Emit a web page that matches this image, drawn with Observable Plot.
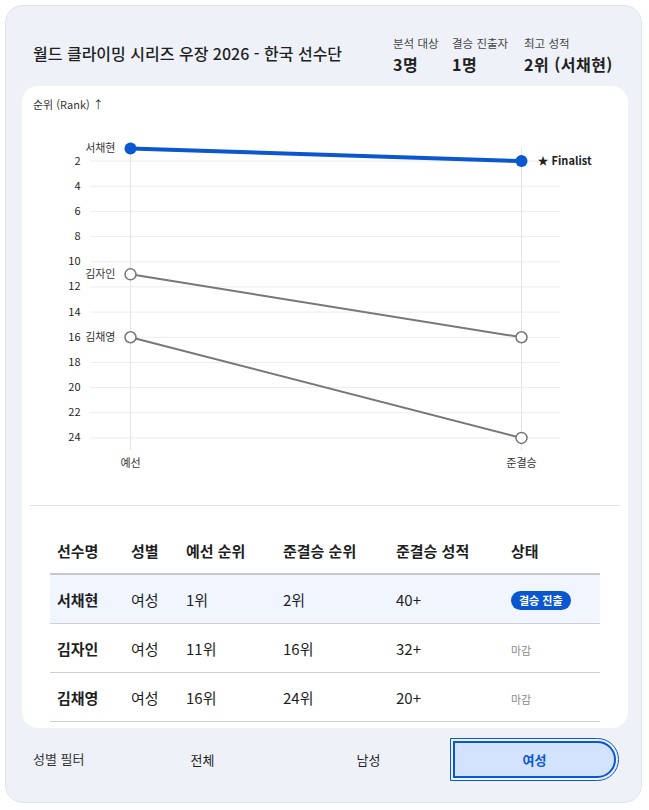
<!DOCTYPE html>
<html lang="ko">
<head>
<meta charset="utf-8">
<script src="https://cdn.jsdelivr.net/npm/d3@7"></script>
<script src="https://cdn.jsdelivr.net/npm/@observablehq/plot@0.6"></script>
<style>
  html, body { margin: 0; padding: 0; background: #ffffff; }
  body { width: 649px; height: 810px; position: relative; font-family: "Noto Sans CJK KR", "Noto Sans", sans-serif; color: #1f1f1f; }
  .card { position: absolute; left: 5px; top: 5px; width: 637px; height: 798px; background: #eef2f8; border: 1px solid #dde3ea; border-radius: 18px; box-sizing: border-box; }
  .title { position: absolute; left: 27px; top: 36px; font-size: 16px; font-weight: 500; line-height: 22px; color: #1f1f1f; }
  .stats { position: absolute; left: 387px; top: 30px; display: flex; }
  .stat .lab { font-size: 11.5px; color: #444; line-height: 14px; }
  .stat .val { font-size: 16px; font-weight: 700; line-height: 20px; margin-top: 4px; color: #1f1f1f; letter-spacing: 0.5px; }
  .panel { position: absolute; left: 16px; top: 80px; width: 606px; height: 642px; background: #fff; border-radius: 16px; }
  .ylab { position: absolute; left: 11px; top: 10px; font-size: 11px; line-height: 16px; color: #333; }
  #chart { position: absolute; left: 0; top: 26px; }
  .divider { position: absolute; left: 8px; top: 419px; width: 590px; height: 1px; background: #e3e3e3; }
  table { position: absolute; left: 28px; top: 441px; width: 550px; border-collapse: collapse; table-layout: fixed; }
  th { font-size: 15px; font-weight: 700; text-align: left; padding: 0 0 0 7px; height: 46px; border-bottom: 2px solid #c8c8c8; color: #1f1f1f; }
  td { font-size: 15px; padding: 0 0 0 7px; height: 48px; border-bottom: 1px solid #cfcfcf; color: #1f1f1f; }
  td.name { font-weight: 700; }
  tr.hl td { background: #f0f5ff; }
  .badge { display: inline-block; background: #0b57d0; color: #fff; font-size: 11px; font-weight: 700; line-height: 19px; padding: 0 8px; border-radius: 10px; }
  .muted { font-size: 11px; color: #8a8a8a; }
  .filter { position: absolute; left: 0; top: 730px; width: 637px; height: 46px; }
  .flab { position: absolute; left: 27px; top: 14px; font-size: 13px; line-height: 18px; color: #333; }
  .btn { position: absolute; top: 5px; width: 163px; height: 37px; box-sizing: border-box; text-align: center; font-size: 13px; line-height: 37px; color: #1f1f1f; }
  .btn.active { background: #d3e3fd; color: #0b57d0; font-weight: 700; border: 2px solid #0b57d0; border-radius: 0 19px 19px 0; outline: 1px solid #0b57d0; outline-offset: 2px; line-height: 33px; }
</style>
</head>
<body>
<div class="card">
  <div class="title">월드 클라이밍 시리즈 우장 2026 - 한국 선수단</div>
  <div class="stats" id="stats"></div>
  <div class="panel">
    <div class="ylab">순위 (Rank) ↑</div>
    <div id="chart"></div>
    <div class="divider"></div>
    <table id="tbl"></table>
  </div>
  <div class="filter" id="filter"></div>
</div>
<script>
// ---- data ----
const athletes = ["서채현", "김자인", "김채영"];
const genders = ["여성", "여성", "여성"];
const qualRanks = [1, 11, 16];
const semiRanks = [2, 16, 24];
const semiScores = ["40+", "32+", "20+"];
const statuses = ["결승 진출", "마감", "마감"];
const rounds = ["예선", "준결승"];
const yTicks = [2, 4, 6, 8, 10, 12, 14, 16, 18, 20, 22, 24];
const statLabels = ["분석 대상", "결승 진출자", "최고 성적"];
const statValues = ["3명", "1명", "2위 (서채현)"];
const tableHeaders = ["선수명", "성별", "예선 순위", "준결승 순위", "준결승 성적", "상태"];
const filterLabels = ["전체", "남성", "여성"];
const activeFilter = "여성";
const finalistNote = "★ Finalist";

// ---- derived table for Plot ----
const rows = athletes.flatMap((name, i) => [
  {name, round: rounds[0], rank: qualRanks[i], finalist: statuses[i] === "결승 진출"},
  {name, round: rounds[1], rank: semiRanks[i], finalist: statuses[i] === "결승 진출"}
]);
const others = rows.filter(d => !d.finalist);
const fin = rows.filter(d => d.finalist);

const BLUE = "#0b57d0";
const GREY = "#777777";

const chart = Plot.plot({
  width: 606,
  height: 378,
  marginTop: 36,
  marginRight: 68,
  marginBottom: 40,
  marginLeft: 68,
  style: {fontFamily: "'Noto Sans CJK KR', sans-serif", fontSize: "11px", color: "#333", background: "transparent"},
  x: {type: "point", domain: rounds, padding: 0.1},
  y: {domain: [1, 25], reverse: true},
  marks: [
    Plot.gridY(yTicks, {stroke: "#ececec", strokeOpacity: 1}),
    Plot.gridX(rounds, {stroke: "#e4e4e4", strokeOpacity: 1}),
    Plot.axisY(yTicks, {tickSize: 0, tickPadding: 10, label: null, fill: "#222", fontSize: 11}),
    Plot.axisX(rounds, {tickSize: 0, tickPadding: 9, label: null, fill: "#333", fontSize: 11}),
    Plot.line(others, {x: "round", y: "rank", z: "name", stroke: GREY, strokeWidth: 2}),
    Plot.dot(others, {x: "round", y: "rank", r: 5.5, fill: "#fff", stroke: GREY, strokeWidth: 1.5}),
    Plot.line(fin, {x: "round", y: "rank", z: "name", stroke: BLUE, strokeWidth: 4}),
    Plot.dot(fin, {x: "round", y: "rank", r: 6, fill: BLUE}),
    Plot.text(rows.filter(d => d.round === rounds[0]), {x: "round", y: "rank", text: "name", dx: -15, textAnchor: "end", fill: "#333", fontSize: 11}),
    Plot.text(fin.filter(d => d.round === rounds[1]), {x: "round", y: "rank", text: () => finalistNote, dx: 16, textAnchor: "start", fill: "#1f1f1f", fontWeight: "bold", fontSize: 11})
  ]
});
document.getElementById("chart").appendChild(chart);

// ---- stats ----
const stats = document.getElementById("stats");
const statWidths = [59, 72, 100];
statLabels.forEach((l, i) => {
  const d = document.createElement("div");
  d.className = "stat";
  d.style.width = statWidths[i] + "px";
  d.innerHTML = `<div class="lab">${l}</div><div class="val">${statValues[i]}</div>`;
  stats.appendChild(d);
});

// ---- table ----
const tbl = document.getElementById("tbl");
const widths = [74, 55, 97, 113, 115, 96];
tbl.innerHTML = `<colgroup>${widths.map(w => `<col style="width:${w}px">`).join("")}</colgroup>` +
  `<thead><tr>${tableHeaders.map(h => `<th>${h}</th>`).join("")}</tr></thead>` +
  `<tbody>${athletes.map((n, i) => {
    const isFin = statuses[i] === "결승 진출";
    const st = isFin ? `<span class="badge">${statuses[i]}</span>` : `<span class="muted">${statuses[i]}</span>`;
    return `<tr class="${isFin ? "hl" : ""}"><td class="name">${n}</td><td>${genders[i]}</td><td>${qualRanks[i]}위</td><td>${semiRanks[i]}위</td><td>${semiScores[i]}</td><td>${st}</td></tr>`;
  }).join("")}</tbody>`;

// ---- filter ----
const filter = document.getElementById("filter");
filter.innerHTML = `<div class="flab">성별 필터</div>` + filterLabels.map((f, i) =>
  `<div class="btn ${f === activeFilter ? "active" : ""}" style="left:${115 + i * 166}px">${f}</div>`).join("");
</script>
</body>
</html>
